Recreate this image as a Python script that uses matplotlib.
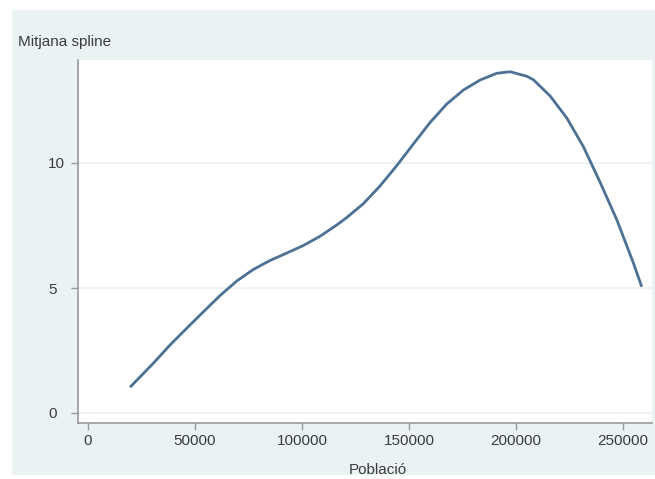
import matplotlib
matplotlib.use('Agg')
import matplotlib.pyplot as plt
from matplotlib.patches import Rectangle

plt.rcParams['font.family'] = ['Liberation Sans', 'DejaVu Sans']

# spline of the mean, sampled along population
poblacio = [19600, 30500, 38300, 46100, 53900, 61700, 69500, 77200, 85000,
            92900, 100600, 108400, 116200, 120900, 128600, 136400, 144300,
            152000, 159800, 167600, 175400, 183200, 191000, 197200, 205000,
            208100, 215900, 223700, 231400, 239300, 247100, 254800, 258700]
mitjana = [1.03, 1.99, 2.72, 3.39, 4.05, 4.70, 5.28, 5.74, 6.10,
           6.40, 6.70, 7.07, 7.52, 7.82, 8.37, 9.08, 9.90,
           10.76, 11.62, 12.36, 12.92, 13.32, 13.59, 13.65, 13.47,
           13.33, 12.68, 11.80, 10.66, 9.22, 7.72, 6.00, 5.05]

xticks = [0, 50000, 100000, 150000, 200000, 250000]
yticks = [0, 5, 10]

W, H = 655, 479
bg = '#eaf2f3'
txt = '#3c3c3c'

fig = plt.figure(figsize=(W / 100, H / 100), dpi=100)
fig.patch.set_facecolor('white')
fig.patches.append(Rectangle((12 / W, 1 - 475 / H), 1 - 12 / W, (475 - 10) / H,
                             transform=fig.transFigure, facecolor=bg,
                             edgecolor='none', zorder=-10))

ax = fig.add_axes([78 / W, 1 - 423 / H, (652 - 78) / W, (423 - 60) / H])
ax.set_zorder(5)
ax.set_facecolor('white')
ax.plot(poblacio, mitjana, color='#4c7194', lw=2, solid_capstyle='butt',
        solid_joinstyle='round', zorder=3)

ax.set_xlim(-4700, 263500)
ax.set_ylim(-0.4, 14.12)
ax.set_xticks(xticks)
ax.set_yticks(yticks)
ax.set_xticklabels([str(t) for t in xticks])
ax.set_yticklabels([str(t) for t in yticks])

for s in ['top', 'right']:
    ax.spines[s].set_visible(False)
for s in ['left', 'bottom']:
    ax.spines[s].set_color('#9a9a9a')
    ax.spines[s].set_linewidth(1.2)

ax.grid(axis='y', color='#eaf2f3', lw=1.2, zorder=1)
ax.tick_params(axis='both', colors='#9a9a9a', length=5, width=1, labelcolor=txt, labelsize=11)
ax.tick_params(axis='y', pad=16.5)
ax.tick_params(axis='x', pad=3)
for lab in ax.get_yticklabels():
    lab.set_horizontalalignment('left')

fig.text(18 / W, 1 - 42 / H, 'Mitjana spline', ha='left', va='center', fontsize=11, color=txt)
fig.text(378 / W, 1 - 470 / H, 'Població', ha='center', va='center', fontsize=11, color=txt)

fig.savefig('out.png', dpi=100, facecolor=fig.get_facecolor())
